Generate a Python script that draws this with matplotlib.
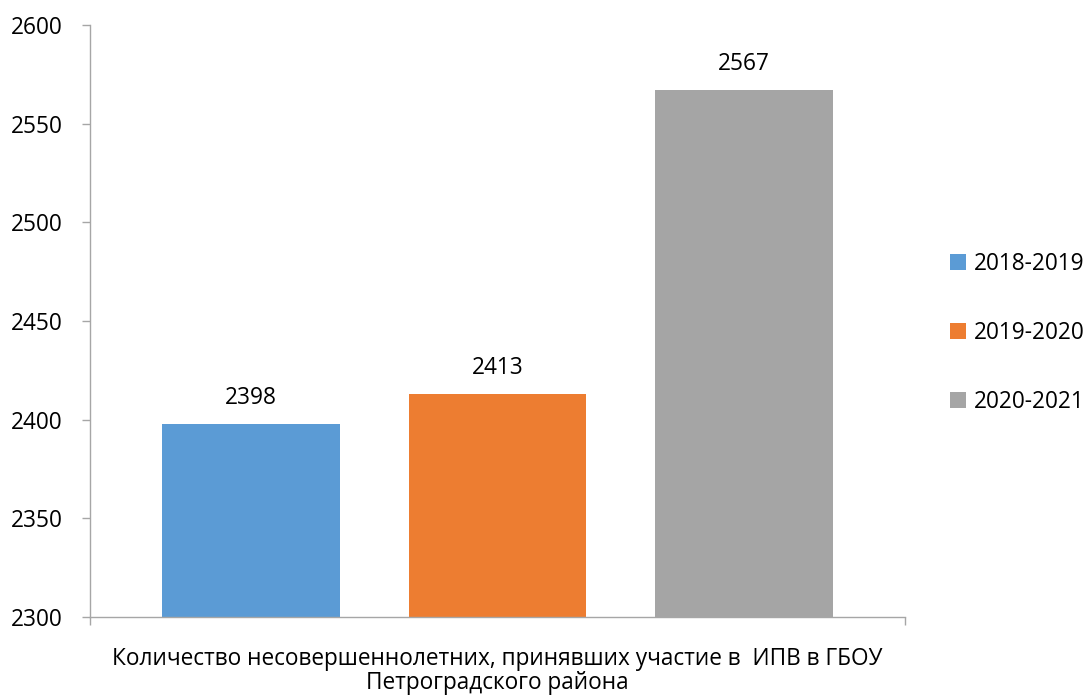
import matplotlib
matplotlib.use("Agg")
import matplotlib.pyplot as plt
from matplotlib.patches import Patch

categories = ["Количество несовершеннолетних, принявших участие в  ИПВ в ГБОУ\nПетроградского района"]
series_names = ["2018-2019", "2019-2020", "2020-2021"]
values = [2398, 2413, 2567]
colors = ["#5B9BD5", "#ED7D31", "#A5A5A5"]
yticks = [2300, 2350, 2400, 2450, 2500, 2550, 2600]

plt.rcParams['font.family'] = ['Open Sans', 'DejaVu Sans']
FS = 16.3

fig = plt.figure(figsize=(10.88, 6.95), dpi=100)
ax = fig.add_axes([90/1088, 1-617/695, 815/1088, 592/695])

offsets = [-0.3025, 0.0, 0.3025]
width = 0.2184
for name, v, c, off in zip(series_names, values, colors, offsets):
    ax.bar(0.5 + off, v - 2300, bottom=2300, width=width, color=c, label=name)
    ax.text(0.5 + off, v + 7, str(v), ha='center', va='bottom', fontsize=FS, color='#000000')

ax.set_xlim(0, 1)
ax.set_ylim(2300, 2600)
ax.set_yticks(yticks)
ax.set_yticklabels([str(t) for t in yticks], fontsize=FS)
ax.set_xticks([0, 1])
ax.set_xticklabels(["", ""])
ax.tick_params(axis='y', length=6, width=1, color='#A6A6A6', pad=13.5)
ax.tick_params(axis='x', length=6, width=1, color='#A6A6A6')
for s in ['top', 'right']:
    ax.spines[s].set_visible(False)
for s in ['left', 'bottom']:
    ax.spines[s].set_color('#A6A6A6')
    ax.spines[s].set_linewidth(1)

fig.text(497.5/1088, 1-671/695, categories[0], ha='center', va='center', fontsize=FS,
         linespacing=1.0)

handles = [Patch(facecolor=c, edgecolor='none') for c in colors]
fig.legend(handles, series_names, loc='center left', bbox_to_anchor=(950/1088, 1-333/695),
           frameon=False, fontsize=FS, handlelength=0.7, handleheight=0.7,
           handletextpad=0.35, labelspacing=2.0, borderaxespad=0, borderpad=0)

fig.savefig("out.png", dpi=100)
